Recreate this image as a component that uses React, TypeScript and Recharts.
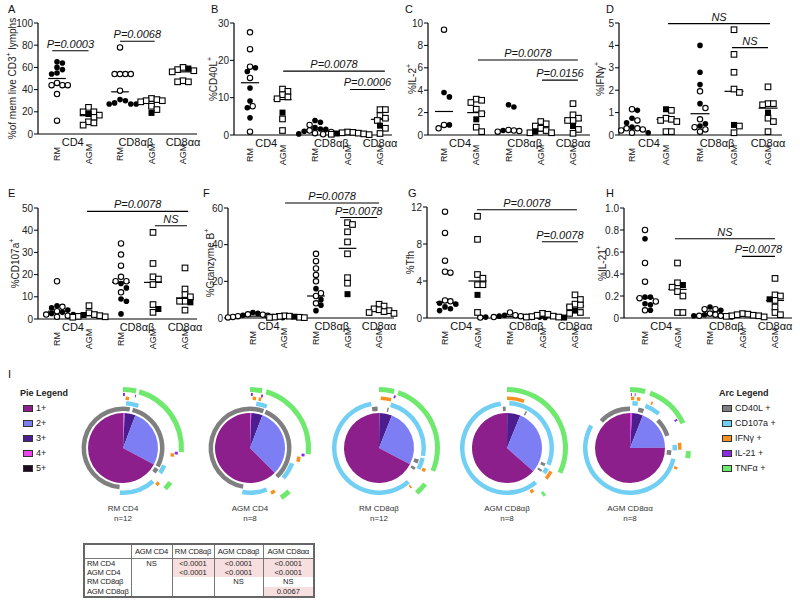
import React from 'react'
import { ScatterChart, Scatter, XAxis, YAxis, ReferenceLine, PieChart, Pie, Cell } from 'recharts'

const FONT = '"Liberation Sans", Arial, sans-serif'

// x axis labels
const subLabels = ['RM', 'AGM', 'RM', 'AGM', 'AGM']
const groupLabels = ['CD4', 'CD8αβ', 'CD8αα']

// panel values: one list per group (RM CD4, AGM CD4, RM CD8ab, AGM CD8ab, AGM CD8aa)
const aOpen = [[46, 44, 44, 44, 36, 12], [24, 20, 20, 17, 15, 11, 10, 8], [78, 54, 54, 54, 54, 39], [32, 31, 30, 30, 29, 25, 22], [60, 58, 57, 56, 48, 47, 47]]
const aFilled = [[65, 64, 60, 58, 55, 54], [18], [31, 30, 28, 27, 27, 27], [19], [59]]
const aMedian = [50, 16.5, 38, 29.5, 56]
const aTicks = [0, 20, 40, 60, 80, 100]

const bOpen = [[27.5, 23, 18.3, 15.3, 7.7, 0.9], [12.3, 11.7, 10.8, 10.2, 9.7, 4.3, 1.2], [2.7, 1.2, 0.8, 0.5, 0.2], [0.8, 0.7, 0.6, 0.5, 0.3, 0.2, 0.1], [6.8, 6.8, 5.2, 4.5, 3.9, 1.8, 0.4]]
const bFilled = [[18, 17, 12.6, 9.1, 7.3, 4.6], [6], [3.9, 3.4, 2, 1.6, 1.5, 1, 0.3], [0.4], [2.5]]
const bMedian = [14, 9.5, 1.4, 0.4, 4.2]
const bTicks = [0, 10, 20, 30]

const cOpen = [[9.4, 0.9, 0.6], [3.2, 3.1, 2.9, 2.3, 1.9, 0.7, 0.3], [0.45, 0.4, 0.35, 0.3], [1.2, 1.0, 0.8, 0.6, 0.4, 0.2, 0.2], [2.8, 1.8, 1.5, 1.3, 1.3, 0.5, 0.15]]
const cFilled = [[3.8, 3.4, 0.9], [1.4], [2.7, 2.5, 0.4], [0.3], [0.8]]
const cMedian = [2.1, 2.0, 0.4, 0.35, 1.3]
const cTicks = [0, 2, 4, 6, 8, 10]

const dOpen = [[1.15, 0.65, 0.3, 0.3, 0.25, 0.2, 0.1], [1.1, 0.75, 0.7, 0.65, 0.6, 0.15, 0.15], [1.95, 1.2, 0.7, 0.35, 0.25, 0.15], [4.7, 3.6, 2.8, 2.05, 1.9, 0.4, 0.1], [2.15, 1.4, 1.4, 1.35, 0.75, 0.6, 0.15]]
const dFilled = [[1.1, 0.75, 0.55, 0.35, 0.1], [1.15], [4.0, 2.8, 2.25, 1.4, 0.5, 0.4], [0.45], [1.0]]
const dMedian = [0.3, 0.7, 0.95, 1.95, 1.2]
const dTicks = [0, 1, 2, 3, 4, 5]

const eOpen = [[17, 5.5, 3.5, 2, 1.5, 1], [6, 2.8, 2, 1.5, 1.2, 1, 0.8], [34, 29, 24, 19, 17, 17, 12], [39, 25, 19, 18, 15.5, 6.5, 3], [23, 13.5, 11, 10, 8, 8, 4]]
const eFilled = [[6, 5, 4, 3, 2.5, 2], [1.8], [16, 14, 9, 8, 2.3], [4.5], [7.5]]
const eMedian = [3.5, 1.5, 16.5, 16.5, 9.5]
const eTicks = [0, 10, 20, 30, 40, 50]

const fOpen = [[2, 1.8, 1.2, 1, 0.6, 0.3], [1.2, 1, 0.9, 0.5, 0.4, 0.3, 0.2], [35, 31, 27, 23.5, 20, 13.5, 12, 8], [52, 51, 47, 41.5, 35, 22, 19], [7.5, 6.5, 5, 4.5, 4, 3.5, 3, 2.5]]
const fFilled = [[3, 2.5, 1.5, 0.8, 0.5, 0.2], [0.7], [16, 10, 7, 4], [13], []]
const fMedian = [1, 0.5, 12, 38, 4]
const fTicks = [0, 20, 40, 60]

const gOpen = [[11.5, 9.2, 6.2, 5.0, 4.9, 1.9, 1.8], [11, 8.5, 4.7, 4.3, 3.6, 3.6, 0.6], [0.6, 0.3, 0.2, 0.1, 0.1, 0.05], [0.5, 0.4, 0.3, 0.2, 0.15, 0.1, 0.1], [2.5, 2.0, 1.5, 1.4, 1.2, 0.6, 0.5]]
const gFilled = [[1.6, 1.5, 1.2, 1.0, 0.8], [2.5], [0.3, 0.2, 0.15, 0.1, 0.1, 0.05], [0.05], [0.8]]
const gMedian = [1.7, 4, 0.15, 0.15, 1.3]
const gTicks = [0, 4, 8, 12]

const hOpen = [[0.8, 0.5, 0.33, 0.18, 0.15, 0.07], [0.5, 0.32, 0.28, 0.24, 0.2, 0.05, 0.05], [0.08, 0.08, 0.04, 0.03, 0.02, 0.02], [0.04, 0.035, 0.03, 0.025, 0.02, 0.02, 0.015, 0.01], [0.36, 0.21, 0.2, 0.16, 0.1, 0.05, 0.03]]
const hFilled = [[0.72, 0.19, 0.19, 0.13, 0.12, 0.07], [0.3], [0.1, 0.07, 0.03, 0.02, 0.02, 0.01], [], [0.17]]
const hMedian = [0.18, 0.26, 0.02, 0.015, 0.16]
const hTicks = [0, 0.2, 0.4, 0.6, 0.8, 1.0]

// significance bars: [from group, to group, y, text]
const aSig: [number, number, number, string][] = [[0.85, 2.0, 75, 'P=0.0003'], [3.0, 4.1, 83.5, 'P=0.0068']]
const bSig: [number, number, number, string][] = [[2.02, 5.15, 17.1, 'P=0.0078'], [4.08, 5.15, 12.2, 'P=0.0006']]
const cSig: [number, number, number, string][] = [[2.05, 5.15, 6.7, 'P=0.0078'], [4.04, 5.15, 4.9, 'P=0.0156']]
const dSig: [number, number, number, string][] = [[2.06, 5.06, 4.97, 'NS'], [3.94, 5.0, 3.9, 'NS']]
const eSig: [number, number, number, string][] = [[1.94, 5.1, 48.5, 'P=0.0078'], [4.06, 5.06, 42, 'NS']]
const fSig: [number, number, number, string][] = [[2.02, 5.0, 62.7, 'P=0.0078'], [3.77, 4.94, 54.8, 'P=0.0078']]
const gSig: [number, number, number, string][] = [[1.98, 5.06, 11.7, 'P=0.0078'], [3.98, 5.09, 8.25, 'P=0.0078']]
const hSig: [number, number, number, string][] = [[1.92, 5.0, 0.72, 'NS'], [3.98, 5.0, 0.56, 'P=0.0078']]

// pie slices, clockwise from 12 o'clock: 5+, 4+, 3+, 2+, 1+
const pieNames = ['RM CD4', 'AGM CD4', 'RM CD8αβ', 'AGM CD8αβ', 'AGM CD8αα']
const pieN = [12, 8, 12, 8, 8]
const pieSlices = [
  [0.2, 0.6, 5, 27, 67.2],
  [0.1, 0.5, 5.2, 31.7, 62.5],
  [0, 0.2, 5.8, 26.7, 67.3],
  [0, 0.1, 6.1, 30.3, 63.5],
  [0, 1, 5, 18.9, 75.1],
]
// arc segments, degrees clockwise from 12 o'clock
const cd40lArcs = [
  [[0, 10], [14, 118], [121, 128], [185, 360]],
  [[0, 20], [23, 137], [190, 360]],
  [[12, 14], [106, 112], [118, 122], [350, 358]],
  [[27, 29], [112, 116], [122, 125], [354, 358]],
  [[12, 20], [45, 72], [93, 100], [313, 360]],
]
const cd107aArcs = [
  [[4, 20], [113, 124], [138, 184]],
  [[8, 22], [110, 132], [158, 190]],
  [[15, 100], [103, 118], [139, 350]],
  [[3, 112], [117, 124], [140, 352]],
  [[3, 10], [20, 40], [86, 93], [104, 300]],
]
const ifngArcs = [
  [[3, 7], [96, 100], [134, 138]],
  [[3, 7], [10, 13], [100, 106], [150, 155]],
  [[2, 14], [114, 118], [140, 142]],
  [[0, 20], [118, 128], [148, 152]],
  [[1, 5], [8, 12], [25, 27], [84, 92], [112, 115]],
]
const il21Arcs = [
  [[0, 2], [13, 14], [94, 97]],
  [[1, 3], [12, 14], [96, 99]],
  [[16, 18]],
  [],
  [[1, 2], [5, 6], [58, 60]],
]
const tnfaArcs = [
  [[0, 13], [16, 94], [126, 134]],
  [[0, 12], [16, 96], [138, 148]],
  [[0, 15], [19, 113], [128, 140]],
  [[0, 115], [140, 143]],
  [[0, 15], [20, 65], [93, 100]],
]

const pieLegend = ['1+', '2+', '3+', '4+', '5+']
const arcLegend = ['CD40L +', 'CD107a +', 'IFNγ +', 'IL-21 +', 'TNFα +']

const tableCols = ['', 'AGM CD4', 'RM CD8αβ', 'AGM CD8αβ', 'AGM CD8αα']
const tableRows = ['RM CD4', 'AGM CD4', 'RM CD8αβ', 'AGM CD8αβ']
const tableVals = [
  ['NS', '<0.0001', '<0.0001', '<0.0001'],
  ['', '<0.0001', '<0.0001', '<0.0001'],
  ['', '', 'NS', 'NS'],
  ['', '', '', '0.0067'],
]

const sliceColors = ['#1c0b1e', '#ee44ee', '#4b1d8f', '#7d7ef4', '#8d1f8c']
const legendColors = ['#8d1f8c', '#7d7ef4', '#4b1d8f', '#ee44ee', '#1c0b1e']
const arcColors = ['#7f7f7f', '#72cff4', '#f6901e', '#8a2be2', '#6ee96e']
const ringRadii = [[37, 41.5], [42.5, 47], [48, 51.5], [52, 55], [56, 61]]

const YW = 40
const MT = 20
const XH = 40

type Lay = { ax: number; right: number; top: number; bottom: number; x1: number; x5: number; lo: number }

function swarm(open: number[], filled: number[], pxY: number, pxX: number, g: number) {
  const all = [...open.map(v => ({ v, f: false })), ...filled.map(v => ({ v, f: true }))].sort((a, b) => b.v - a.v)
  const placed: { dx: number; py: number }[] = []
  return all.map(p => {
    const py = p.v * pxY
    let dx = 0
    for (let k = 0; k < 80; k++) {
      const off = k === 0 ? 0 : (k % 2 ? 1 : -1) * Math.ceil(k / 2) * 2.7
      if (placed.every(q => Math.hypot(q.dx - off, q.py - py) >= 5.4)) {
        dx = off
        break
      }
    }
    placed.push({ dx, py })
    return { x: g + 1 + dx / pxX, y: p.v, f: p.f }
  })
}

const circleOpen = (p: any) => <circle cx={p.cx} cy={p.cy} r={2.7} fill="#fff" stroke="#000" strokeWidth={1.1} />
const circleFilled = (p: any) => <circle cx={p.cx} cy={p.cy} r={2.8} fill="#000" />
const squareOpen = (p: any) => <rect x={p.cx - 2.8} y={p.cy - 2.8} width={5.6} height={5.6} fill="#fff" stroke="#000" strokeWidth={1.1} />
const squareFilled = (p: any) => <rect x={p.cx - 3} y={p.cy - 3} width={6} height={6} fill="#000" />

function XTick(props: any) {
  const { x, y, payload } = props
  const v = payload.value
  const out: React.ReactNode[] = []
  if (v === 1.5 || v === 3.5 || v === 5) {
    const name = groupLabels[v === 1.5 ? 0 : v === 3.5 ? 1 : 2]
    out.push(<text key="g" x={x} y={y + 12} textAnchor="middle" fontSize={11} fontFamily={FONT} fill="#111">{name}</text>)
  }
  if (Number.isInteger(v)) {
    out.push(
      <text key="s" transform={`translate(${x},${y + 20}) rotate(-90)`} textAnchor="middle" dominantBaseline="central" fontSize={9} fontFamily={FONT} fill="#111">
        {subLabels[v - 1]}
      </text>
    )
  }
  return <g>{out}</g>
}

interface PanelProps {
  lay: Lay
  ticks: number[]
  open: number[][]
  filled: number[][]
  median: number[]
  sigs: [number, number, number, string][]
  title: string
  sup?: string
  tail?: string
  fmt?: (v: number) => string
}

function Panel({ lay, ticks, open, filled, median, sigs, title, sup, tail, fmt }: PanelProps) {
  const yMax = ticks[ticks.length - 1]
  const plotH = lay.bottom - lay.top
  const u = (lay.x5 - lay.x1) / 4
  const dom = [1 - (lay.x1 - lay.ax) / u, 5 + (lay.right - lay.x5) / u]
  const pxY = plotH / yMax
  const rmO: any[] = [], rmF: any[] = [], agO: any[] = [], agF: any[] = []
  open.forEach((vals, g) => {
    const rm = subLabels[g] === 'RM'
    swarm(vals, filled[g], pxY, u, g).forEach(p => {
      if (rm) (p.f ? rmF : rmO).push(p)
      else (p.f ? agF : agO).push(p)
    })
  })
  const width = YW + lay.right - lay.ax
  const height = MT + plotH + XH
  const cx = YW - lay.lo
  const cy = MT + plotH / 2
  return (
    <div style={{ position: 'absolute', left: lay.ax - YW, top: lay.top - MT }}>
      <ScatterChart width={width} height={height} margin={{ top: MT, right: 0, bottom: 0, left: 0 }}>
        <XAxis type="number" dataKey="x" domain={dom} ticks={[1, 1.5, 2, 3, 3.5, 4, 5]} interval={0} tick={<XTick />} tickLine={false} tickSize={0} tickMargin={0} axisLine={{ stroke: '#000', strokeWidth: 1.2 }} height={XH} />
        <YAxis
          type="number"
          dataKey="y"
          domain={[0, yMax]}
          ticks={ticks}
          interval={0}
          width={YW}
          tickSize={4}
          tickMargin={1}
          tickFormatter={fmt}
          tick={{ fontSize: 10, fill: '#222', fontFamily: FONT }}
          tickLine={{ stroke: '#000' }}
          axisLine={{ stroke: '#000', strokeWidth: 1.2 }}
          label={{
            content: () => (
              <text transform={`translate(${cx},${cy}) rotate(-90)`} textAnchor="middle" dominantBaseline="central" fontSize={10} fontFamily={FONT} fill="#222">
                {title}
                {sup && <tspan dy={-4} fontSize={7}>{sup}</tspan>}
                {tail && <tspan dy={4}>{tail}</tspan>}
              </text>
            ),
          }}
        />
        {median.map((m, g) => (
          <ReferenceLine key={'m' + g} segment={[{ x: g + 0.72, y: m }, { x: g + 1.28, y: m }]} stroke="#000" strokeWidth={1.2} ifOverflow="visible" />
        ))}
        {sigs.map(([a, b, y, t], i) => (
          <ReferenceLine
            key={'s' + i}
            segment={[{ x: a, y }, { x: b, y }]}
            stroke="#000"
            strokeWidth={1.1}
            ifOverflow="visible"
            label={{ value: t, position: 'top', offset: 3, fill: '#111', fontSize: 11, fontStyle: 'italic', fontFamily: FONT }}
          />
        ))}
        <Scatter data={rmO} shape={circleOpen} isAnimationActive={false} />
        <Scatter data={rmF} shape={circleFilled} isAnimationActive={false} />
        <Scatter data={agO} shape={squareOpen} isAnimationActive={false} />
        <Scatter data={agF} shape={squareFilled} isAnimationActive={false} />
      </ScatterChart>
    </div>
  )
}

function ringData(arcs: number[][]) {
  const out: { v: number; on: boolean }[] = []
  let pos = 0
  arcs.slice().sort((a, b) => a[0] - b[0]).forEach(([s, e]) => {
    if (s > pos) out.push({ v: s - pos, on: false })
    out.push({ v: e - s, on: true })
    pos = e
  })
  if (pos < 360) out.push({ v: 360 - pos, on: false })
  return out
}

const pieCenters = [123, 250, 379, 507, 630]

function SpicePie({ i }: { i: number }) {
  const slices = pieSlices[i].map(v => ({ v }))
  const rings = [cd40lArcs[i], cd107aArcs[i], ifngArcs[i], il21Arcs[i], tnfaArcs[i]]
  return (
    <div style={{ position: 'absolute', left: pieCenters[i] - 70, top: 448 - 70 }}>
      <PieChart width={140} height={140} margin={{ top: 0, right: 0, bottom: 0, left: 0 }}>
        <Pie data={slices} dataKey="v" cx={70} cy={70} innerRadius={0} outerRadius={35} startAngle={90} endAngle={-270} stroke="none" isAnimationActive={false}>
          {slices.map((_, k) => <Cell key={k} fill={sliceColors[k]} />)}
        </Pie>
        {rings.map((arcs, r) => {
          const d = ringData(arcs)
          return (
            <Pie key={r} data={d} dataKey="v" cx={70} cy={70} innerRadius={ringRadii[r][0]} outerRadius={ringRadii[r][1]} startAngle={90} endAngle={-270} stroke="none" isAnimationActive={false}>
              {d.map((s, k) => <Cell key={k} fill={s.on ? arcColors[r] : 'transparent'} />)}
            </Pie>
          )
        })}
      </PieChart>
      <div style={{ position: 'absolute', left: 0, width: 140, top: 126, textAlign: 'center', fontSize: 8, lineHeight: '10px', color: '#333', fontFamily: FONT }}>
        {pieNames[i]}
        <br />
        n={pieN[i]}
      </div>
    </div>
  )
}

function Legend({ x, title, items, colors }: { x: number; title: string; items: string[]; colors: string[] }) {
  return (
    <div style={{ position: 'absolute', left: x, top: 388, fontFamily: FONT, fontSize: 9, color: '#222' }}>
      <div style={{ fontWeight: 'bold', height: 12, whiteSpace: 'nowrap' }}>{title}</div>
      {items.map((t, k) => (
        <div key={t} style={{ position: 'absolute', top: 15 + k * 15, left: 3, whiteSpace: 'nowrap', display: 'flex', alignItems: 'center' }}>
          <span style={{ display: 'inline-block', width: 8, height: 5, background: colors[k], border: '1px solid #333', marginRight: 3 }} />
          {t}
        </div>
      ))}
    </div>
  )
}

const letter = (t: string, x: number, y: number) => (
  <div key={t} style={{ position: 'absolute', left: x, top: y, fontSize: 11, fontFamily: FONT, color: '#111' }}>{t}</div>
)

const cellBase: React.CSSProperties = { borderRight: '1px solid #777', padding: 0, whiteSpace: 'nowrap', overflow: 'hidden', lineHeight: '9px' }

export default function App() {
  const hFmt = (v: number) => (v === 0 ? '0' : v.toFixed(1))
  return (
    <div style={{ position: 'absolute', left: 0, top: 0, width: 800, height: 603, background: '#fff', overflow: 'hidden', fontFamily: FONT }}>
      <style>{'.recharts-surface { overflow: visible; }'}</style>
      {letter('A', 8, 3)}
      {letter('B', 211, 3)}
      {letter('C', 405, 3)}
      {letter('D', 606, 3)}
      {letter('E', 8, 187)}
      {letter('F', 203, 187)}
      {letter('G', 408, 187)}
      {letter('H', 606, 187)}
      {letter('I', 8, 368)}
      <Panel lay={{ ax: 38, right: 197, top: 23, bottom: 134, x1: 57, x5: 183, lo: 26 }} ticks={aTicks} open={aOpen} filled={aFilled} median={aMedian} sigs={aSig} title="%of mem live CD3" sup="+" tail=" lymphs" />
      <Panel lay={{ ax: 234, right: 392, top: 23, bottom: 135, x1: 250, x5: 380, lo: 21 }} ticks={bTicks} open={bOpen} filled={bFilled} median={bMedian} sigs={bSig} title="%CD40L" sup="+" />
      <Panel lay={{ ax: 428, right: 590, top: 23, bottom: 135, x1: 444, x5: 573, lo: 16 }} ticks={cTicks} open={cOpen} filled={cFilled} median={cMedian} sigs={cSig} title="%IL-2" sup="+" />
      <Panel lay={{ ax: 619, right: 782, top: 23, bottom: 135, x1: 632, x5: 768, lo: 19 }} ticks={dTicks} open={dOpen} filled={dFilled} median={dMedian} sigs={dSig} title="%IFNγ" sup="+" />
      <Panel lay={{ ax: 38, right: 197, top: 208, bottom: 319, x1: 57, x5: 185, lo: 23 }} ticks={eTicks} open={eOpen} filled={eFilled} median={eMedian} sigs={eSig} title="%CD107a" sup="+" />
      <Panel lay={{ ax: 228, right: 394, top: 208, bottom: 318, x1: 245, x5: 382, lo: 18 }} ticks={fTicks} open={fOpen} filled={fFilled} median={fMedian} sigs={fSig} title="%Granzyme B" sup="+" />
      <Panel lay={{ ax: 427, right: 590, top: 207, bottom: 318, x1: 445, x5: 575, lo: 17 }} ticks={gTicks} open={gOpen} filled={gFilled} median={gMedian} sigs={gSig} title="%Tfh" />
      <Panel lay={{ ax: 624, right: 792, top: 208, bottom: 318, x1: 645, x5: 775, lo: 22 }} ticks={hTicks} open={hOpen} filled={hFilled} median={hMedian} sigs={hSig} title="%IL-21" sup="+" fmt={hFmt} />
      {pieNames.map((_, i) => <SpicePie key={i} i={i} />)}
      <Legend x={20} title="Pie Legend" items={pieLegend} colors={legendColors} />
      <Legend x={719} title="Arc Legend" items={arcLegend} colors={arcColors} />
      <table style={{ position: 'absolute', left: 83, top: 543, width: 230, borderCollapse: 'collapse', border: '2px solid #666', fontSize: 7.6, fontFamily: FONT, color: '#222', tableLayout: 'fixed' }}>
        <colgroup>
          <col style={{ width: 47 }} />
          <col style={{ width: 41 }} />
          <col style={{ width: 42 }} />
          <col style={{ width: 49 }} />
          <col style={{ width: 51 }} />
        </colgroup>
        <thead>
          <tr style={{ height: 14 }}>
            {tableCols.map((c, k) => (
              <th key={k} style={{ ...cellBase, fontWeight: 'normal', borderBottom: '1px solid #777', textAlign: 'center', letterSpacing: -0.2 }}>{c}</th>
            ))}
          </tr>
        </thead>
        <tbody>
          {tableRows.map((r, i) => (
            <tr key={r} style={{ height: 9.5 }}>
              <td style={{ ...cellBase, paddingLeft: 2, letterSpacing: -0.2 }}>{r}</td>
              {tableVals[i].map((v, k) => (
                <td key={k} style={{ ...cellBase, textAlign: 'center', background: v && v !== 'NS' ? '#f8dfdf' : '#fff' }}>{v}</td>
              ))}
            </tr>
          ))}
        </tbody>
      </table>
    </div>
  )
}
